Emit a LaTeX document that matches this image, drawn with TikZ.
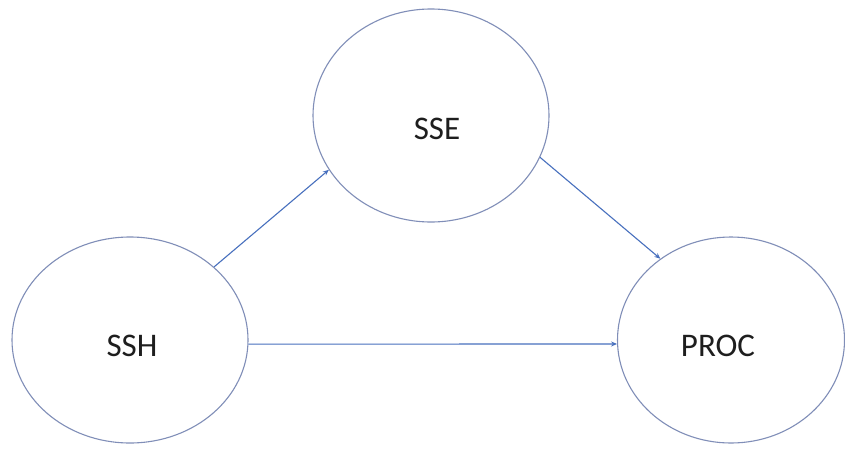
\documentclass[tikz,border=0pt]{standalone}
\usepackage{fontspec}
\setmainfont{Carlito}
\usetikzlibrary{arrows.meta,shapes.geometric}
\definecolor{ringcol}{RGB}{128,142,184}
\definecolor{linkcol}{RGB}{72,112,190}
\definecolor{txtcol}{RGB}{30,30,30}
\begin{document}
\begin{tikzpicture}[x=1pt,y=-1pt,
  bubble/.style={ellipse,draw=ringcol,line width=1.1pt,inner sep=0pt},
  tag/.style={text=txtcol,font=\fontsize{33}{40}\selectfont},
  link/.style={draw=linkcol,line width=1.1pt,-{Stealth[length=6pt,width=5pt]}}]
\useasboundingbox[fill=white] (0,0) rectangle (845,450);
% the three constructs
\node[bubble,minimum width=236pt,minimum height=206pt,
      label={[tag,xshift=2pt,yshift=-6pt]center:SSH}] (ssh) at (130,340) {};
\node[bubble,minimum width=236pt,minimum height=213pt,
      label={[tag,xshift=6pt,yshift=-13pt]center:SSE}] (sse) at (431,115.5) {};
\node[bubble,minimum width=227pt,minimum height=206pt,
      label={[tag,xshift=-13pt,yshift=-6pt]center:PROC}] (proc) at (731,340) {};
% paths between them
\draw[link] (ssh.41) -- (sse.208);
\draw[link] (sse.-21) -- (proc.131);
\draw[link] (ssh.-2.5) -- (proc.182.5);
\end{tikzpicture}
\end{document}
